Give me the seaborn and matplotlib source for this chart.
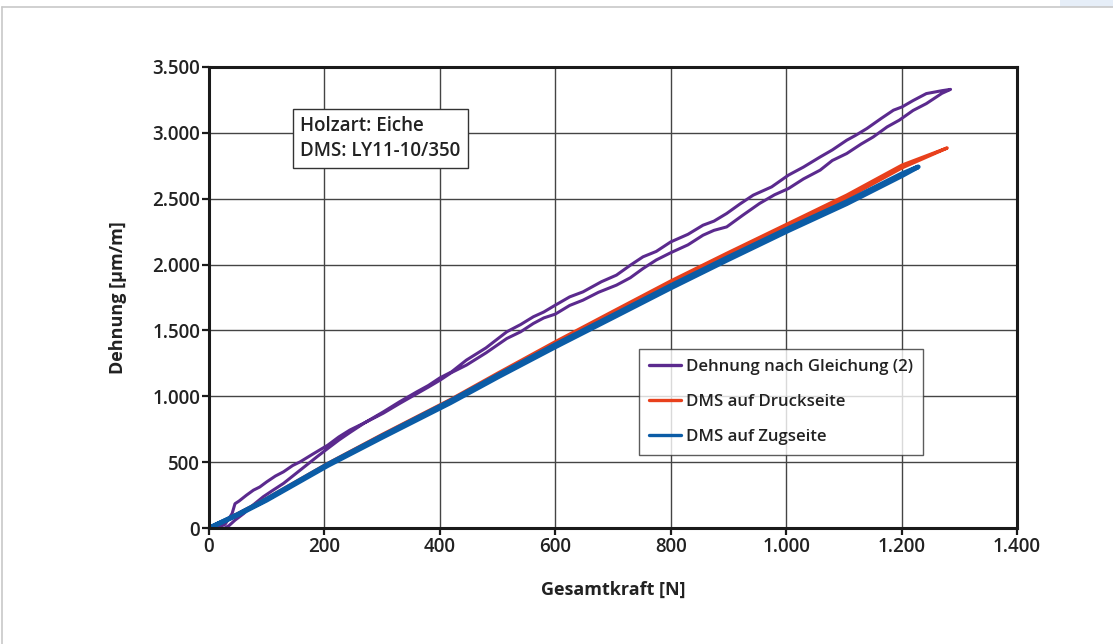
import matplotlib
matplotlib.use("Agg")
import matplotlib.pyplot as plt
import matplotlib.ticker as mticker
from matplotlib.lines import Line2D
from matplotlib.patches import Rectangle
import seaborn as sns
import pandas as pd

# ---- data (force in N, strain in µm/m) ----
purple_up_force = [15, 28, 40, 45, 52, 65, 77, 88, 100, 115, 129, 145, 158, 180, 206, 225, 244, 270,
                   302, 330, 360, 380, 400, 420, 446, 480, 516, 540, 562, 580, 600, 625, 648, 680,
                   706, 730, 752, 775, 800, 830, 856, 875, 897, 920, 943, 975, 1004, 1030, 1059,
                   1080, 1105, 1120, 1140, 1165, 1186, 1201, 1220, 1243, 1270, 1285]
purple_up_strain = [0, 30, 110, 185, 205, 250, 288, 312, 351, 395, 427, 475, 503, 562, 630, 692, 744,
                    800, 882, 958, 1034, 1082, 1140, 1185, 1275, 1368, 1490, 1545, 1604, 1640, 1692,
                    1755, 1793, 1870, 1920, 1995, 2059, 2100, 2172, 2230, 2299, 2330, 2388, 2460,
                    2527, 2590, 2679, 2740, 2817, 2870, 2944, 2980, 3033, 3110, 3172, 3197, 3245,
                    3298, 3320, 3330]
purple_down_force = [1285, 1270, 1243, 1220, 1196, 1175, 1151, 1130, 1105, 1080, 1059, 1030, 1004,
                     980, 954, 925, 897, 875, 856, 830, 800, 775, 752, 730, 706, 675, 648, 625, 600,
                     580, 562, 540, 516, 480, 446, 420, 400, 380, 360, 330, 302, 270, 244, 225, 206,
                     187, 158, 129, 110, 94, 75, 60, 45, 35, 22, 10]
purple_down_strain = [3330, 3300, 3222, 3170, 3096, 3045, 2969, 2915, 2843, 2790, 2717, 2650, 2577,
                      2530, 2464, 2375, 2286, 2260, 2223, 2150, 2090, 2035, 1970, 1900, 1844, 1790,
                      1730, 1690, 1624, 1595, 1553, 1490, 1439, 1330, 1237, 1180, 1122, 1070, 1020,
                      945, 872, 800, 725, 668, 605, 541, 440, 339, 285, 238, 170, 110, 60, 20, -15, 0]

red_up_force = [0, 50, 100, 206, 300, 418, 500, 600, 700, 800, 897, 1004, 1105, 1201, 1249, 1279]
red_up_strain = [0, 110, 225, 491, 710, 975, 1175, 1414, 1645, 1875, 2085, 2312, 2527, 2755, 2835, 2885]
red_down_force = [1279, 1201, 1105, 1004, 897, 800, 700, 600, 500, 418, 300, 206, 100, 50, 0]
red_down_strain = [2885, 2735, 2505, 2290, 2062, 1852, 1622, 1392, 1155, 958, 695, 480, 218, 105, 0]

blue_up_force = [0, 50, 100, 206, 300, 418, 500, 600, 700, 800, 897, 1004, 1105, 1201, 1229]
blue_up_strain = [0, 105, 220, 485, 700, 965, 1160, 1392, 1615, 1840, 2050, 2275, 2478, 2690, 2742]
blue_down_force = [1229, 1201, 1105, 1004, 897, 800, 700, 600, 500, 418, 300, 206, 100, 50, 0]
blue_down_strain = [2742, 2675, 2462, 2258, 2032, 1822, 1598, 1375, 1145, 950, 688, 475, 212, 100, 0]

series_names = ["Dehnung nach Gleichung (2)", "DMS auf Druckseite", "DMS auf Zugseite"]
x_ticks = [0, 200, 400, 600, 800, 1000, 1200, 1400]
y_ticks = [0, 500, 1000, 1500, 2000, 2500, 3000, 3500]
info_text = "Holzart: Eiche\nDMS: LY11-10/350"

colors = {series_names[0]: "#5b2a8e", series_names[1]: "#e8401c", series_names[2]: "#0b5ca6"}
widths = {series_names[0]: 2.2, series_names[1]: 2.4, series_names[2]: 3.4}

frames = []
for name, f1, s1, f2, s2 in [
    (series_names[0], purple_up_force, purple_up_strain, purple_down_force, purple_down_strain),
    (series_names[1], red_up_force, red_up_strain, red_down_force, red_down_strain),
    (series_names[2], blue_up_force, blue_up_strain, blue_down_force, blue_down_strain),
]:
    frames.append(pd.DataFrame({"Kraft": list(f1) + list(f2), "Dehnung": list(s1) + list(s2),
                                "Serie": name, "order": range(len(f1) + len(f2))}))
df = pd.concat(frames, ignore_index=True)

sns.set_theme(style="white")
plt.rcParams["font.family"] = ["Open Sans", "DejaVu Sans"]

fig = plt.figure(figsize=(11.13, 6.44), dpi=100)
ax = fig.add_axes([0.1878, 0.180, 0.7259, 0.716])

for name in series_names:
    sub = df[df["Serie"] == name]
    sns.lineplot(data=sub, x="Kraft", y="Dehnung", sort=False, estimator=None, ax=ax,
                 color=colors[name], linewidth=widths[name], legend=False)

ax.set_xlim(0, 1400)
ax.set_ylim(0, 3500)
ax.set_xticks(x_ticks)
ax.set_yticks(y_ticks)
fmt = mticker.FuncFormatter(lambda v, p: f"{int(v):,}".replace(",", "."))
ax.xaxis.set_major_formatter(fmt)
ax.yaxis.set_major_formatter(fmt)
ax.grid(True, color="#444444", linewidth=1.0)
ax.set_axisbelow(True)
for sp in ax.spines.values():
    sp.set_visible(True)
    sp.set_color("#1a1a1a")
    sp.set_linewidth(2.2)
ax.tick_params(axis="both", direction="out", length=5, width=1.6, color="#1a1a1a",
               labelsize=13.5, labelcolor="#222222", pad=1.5, bottom=True, left=True)
for lab in ax.get_xticklabels() + ax.get_yticklabels():
    lab.set_fontweight("semibold")

ax.set_xlabel("Gesamtkraft [N]", fontsize=13, fontweight="bold", color="#222222", labelpad=17)
ax.set_ylabel("Dehnung [µm/m]", fontsize=13, fontweight="bold", color="#222222", labelpad=18)

ax.text(0.113, 0.893, info_text, transform=ax.transAxes, fontsize=13.5, fontweight="semibold",
        color="#222222", va="top", ha="left", linespacing=1.3,
        bbox=dict(boxstyle="square,pad=0.38", facecolor="white", edgecolor="#333333", linewidth=1.0))

handles = [Line2D([0], [0], color=colors[n], linewidth=2.4) for n in series_names]
leg = ax.legend(handles, series_names, loc="upper left", bbox_to_anchor=(0.532, 0.388),
                fontsize=12.1, frameon=True, fancybox=False, edgecolor="#333333",
                handlelength=1.9, handletextpad=0.3, labelspacing=1.12, borderpad=0.6,
                borderaxespad=0)
leg.get_frame().set_linewidth(1.0)
for t in leg.get_texts():
    t.set_fontweight("semibold")
    t.set_color("#222222")

# page frame
fig.add_artist(Line2D([2 / 1113, 1], [1 - 7 / 644, 1 - 7 / 644], transform=fig.transFigure,
                      color="#c8c8c8", linewidth=1.2))
fig.add_artist(Line2D([2 / 1113, 2 / 1113], [0, 1 - 7 / 644], transform=fig.transFigure,
                      color="#c8c8c8", linewidth=1.2))
fig.add_artist(Rectangle((1060 / 1113, 1 - 7 / 644), 53 / 1113, 7 / 644, transform=fig.transFigure,
                         facecolor="#e6eef8", edgecolor="none"))

fig.savefig("out.png", dpi=100)
